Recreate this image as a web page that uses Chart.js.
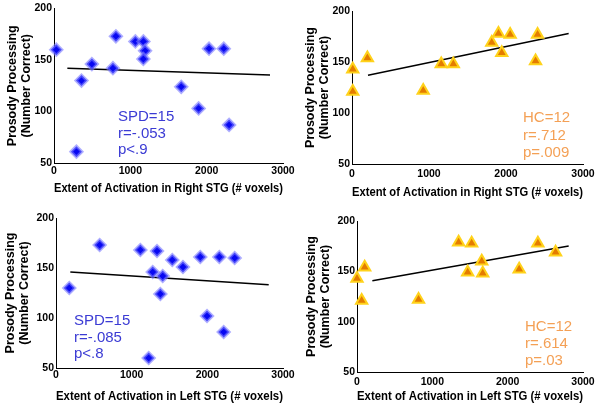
<!DOCTYPE html>
<html>
<head>
<meta charset="utf-8">
<script src="https://cdn.jsdelivr.net/npm/chart.js@4"></script>
<style>
  body { margin: 0; background: #fff; }
  #wrap { position: relative; width: 600px; height: 406px; overflow: hidden; }
  canvas { position: absolute; }
</style>
</head>
<body>
<div id="wrap">
  <canvas id="c1" width="300" height="200" style="left:0;top:0"></canvas>
  <canvas id="c2" width="300" height="200" style="left:300px;top:0"></canvas>
  <canvas id="c3" width="300" height="206" style="left:0;top:200px"></canvas>
  <canvas id="c4" width="300" height="206" style="left:300px;top:200px"></canvas>
</div>
<script>
// axis ticks
const voxelTicks = [0, 1000, 2000, 3000];
const scoreTicks = [50, 100, 150, 200];

// SPD, right STG
const spdRightX = [30, 811, 1066, 1171, 1193, 1171, 496, 772, 360, 2031, 2224, 1667, 1895, 2294, 294];
const spdRightY = [160, 173, 168, 168, 159, 151, 146, 142, 130, 161, 161, 124, 103, 87, 61];
const spdRightFitX = [175, 2830];
const spdRightFitY = [142, 135.5];
const spdRightNote = ['SPD=15', 'r=-.053', 'p<.9'];

// HC, right STG
const hcRightX = [10, 10, 200, 925, 1159, 1316, 1815, 1902, 1945, 2054, 2410, 2384];
const hcRightY = [143, 121, 154, 122, 148, 148, 169, 178, 159, 177, 177, 151];
const hcRightFitX = [208, 2814];
const hcRightFitY = [137, 178];
const hcRightNote = ['HC=12', 'r=.712', 'p=.009'];

// SPD, left STG
const spdLeftX = [176, 577, 1115, 1335, 1537, 1678, 1907, 2159, 2361, 1278, 1410, 1379, 1996, 2216, 1225];
const spdLeftY = [130, 173, 168, 167, 158, 151, 161, 161, 160, 146, 142, 124, 102, 86, 60];
const spdLeftFitX = [189, 2811];
const spdLeftFitY = [146, 133.3];
const spdLeftNote = ['SPD=15', 'r=-.085', 'p<.8'];

// HC, left STG
const hcLeftX = [0, 102, 62, 817, 1349, 1522, 1469, 1656, 1669, 2153, 2401, 2636];
const hcLeftY = [143, 154, 121, 122, 179, 178, 149, 160, 148, 152, 178, 169];
const hcLeftFitX = [204, 2810];
const hcLeftFitY = [140.6, 175.1];
const hcLeftNote = ['HC=12', 'r=.614', 'p=.03'];

const FONT = '"Liberation Sans", Arial, sans-serif';
const BLUE_TEXT = '#3b3bd4';
const ORANGE_TEXT = '#f4a055';

const toPoints = (xs, ys) => xs.map((x, i) => ({ x: x, y: ys[i] }));

// stats text inside each panel
const notes = {
  id: 'notes',
  afterDatasetsDraw(chart, args, opts) {
    const ctx = chart.ctx;
    ctx.save();
    ctx.font = '15px ' + FONT;
    ctx.fillStyle = opts.color;
    ctx.textBaseline = 'middle';
    opts.lines.forEach((t, i) => ctx.fillText(t, opts.x, opts.y + i * opts.step));
    ctx.restore();
  }
};

function makePanel(id, p) {
  const markers = p.group === 'spd'
    ? { pointStyle: 'rectRot', pointRadius: 5.5, backgroundColor: '#0808f2',
        borderColor: 'rgba(120,120,255,0.6)', borderWidth: 3 }
    : { pointStyle: 'triangle', pointRadius: 6.5, backgroundColor: '#e47c00',
        borderColor: '#ffd21a', borderWidth: 2 };

  new Chart(document.getElementById(id), {
    type: 'scatter',
    data: {
      datasets: [
        Object.assign({ data: toPoints(p.xs, p.ys), clip: false }, markers),
        { data: toPoints(p.fitX, p.fitY), showLine: true, borderColor: '#000',
          borderWidth: 1.5, pointRadius: 0, clip: false }
      ]
    },
    options: {
      responsive: false,
      animation: false,
      events: [],
      layout: { padding: { left: 0, top: p.area.top, right: p.w - p.area.right, bottom: 0 } },
      plugins: {
        legend: { display: false },
        tooltip: { enabled: false },
        notes: p.note
      },
      scales: {
        x: {
          min: 0, max: 3000,
          afterBuildTicks: s => { s.ticks = voxelTicks.map(v => ({ value: v })); },
          afterFit: s => { s.height = p.h - p.area.bottom; },
          grid: { display: false, drawTicks: false },
          border: { display: true, color: '#000', width: 1 },
          ticks: { color: '#000', padding: p.xTickPad, maxRotation: 0,
                   callback: v => String(v),
                   font: { family: FONT, size: 10.5, weight: 'bold' } },
          title: { display: true, text: p.xTitle, color: '#000',
                   padding: { top: 0, bottom: p.xTitlePad },
                   font: { family: FONT, size: 12.5, weight: 'bold', lineHeight: 1.2 } }
        },
        y: {
          min: 50, max: 200,
          afterBuildTicks: s => { s.ticks = scoreTicks.map(v => ({ value: v })); },
          afterFit: s => { s.width = p.area.left; },
          grid: { display: false, drawTicks: false },
          border: { display: true, color: '#000', width: 1 },
          ticks: { color: '#000', padding: p.yTickPad,
                   callback: v => String(v),
                   font: { family: FONT, size: 10.5, weight: 'bold' } },
          title: { display: true, text: ['Prosody Processing', '(Number Correct)'], color: '#000',
                   padding: { top: p.yTitlePad, bottom: 0 },
                   font: { family: FONT, size: 12.5, weight: 'bold', lineHeight: 1.12 } }
        }
      }
    },
    plugins: [notes]
  });
}

makePanel('c1', {
  group: 'spd', w: 300, h: 200, area: { left: 54, top: 8, right: 283, bottom: 163 },
  xs: spdRightX, ys: spdRightY, fitX: spdRightFitX, fitY: spdRightFitY,
  xTitle: 'Extent of Activation in Right STG (# voxels)',
  xTickPad: 2, yTickPad: 2, xTitlePad: 3.5, yTitlePad: 6,
  note: { lines: spdRightNote, color: BLUE_TEXT, x: 118, y: 117, step: 16.5 }
});

makePanel('c2', {
  group: 'hc', w: 300, h: 200, area: { left: 52, top: 11, right: 283, bottom: 164 },
  xs: hcRightX, ys: hcRightY, fitX: hcRightFitX, fitY: hcRightFitY,
  xTitle: 'Extent of Activation in Right STG (# voxels)',
  xTickPad: 4, yTickPad: 2, xTitlePad: 0, yTitlePad: 3.5,
  note: { lines: hcRightNote, color: ORANGE_TEXT, x: 223, y: 118, step: 17.5 }
});

makePanel('c3', {
  group: 'spd', w: 300, h: 206, area: { left: 56, top: 18, right: 283, bottom: 168 },
  xs: spdLeftX, ys: spdLeftY, fitX: spdLeftFitX, fitY: spdLeftFitY,
  xTitle: 'Extent of Activation in Left STG (# voxels)',
  xTickPad: 1, yTickPad: 2, xTitlePad: 1.5, yTitlePad: 4,
  note: { lines: spdLeftNote, color: BLUE_TEXT, x: 74, y: 121, step: 16.5 }
});

makePanel('c4', {
  group: 'hc', w: 300, h: 206, area: { left: 57, top: 21, right: 283, bottom: 172 },
  xs: hcLeftX, ys: hcLeftY, fitX: hcLeftFitX, fitY: hcLeftFitY,
  xTitle: 'Extent of Activation in Left STG (# voxels)',
  xTickPad: 4, yTickPad: 2, xTitlePad: 1.5, yTitlePad: 5,
  note: { lines: hcLeftNote, color: ORANGE_TEXT, x: 225, y: 127, step: 17 }
});
</script>
</body>
</html>
